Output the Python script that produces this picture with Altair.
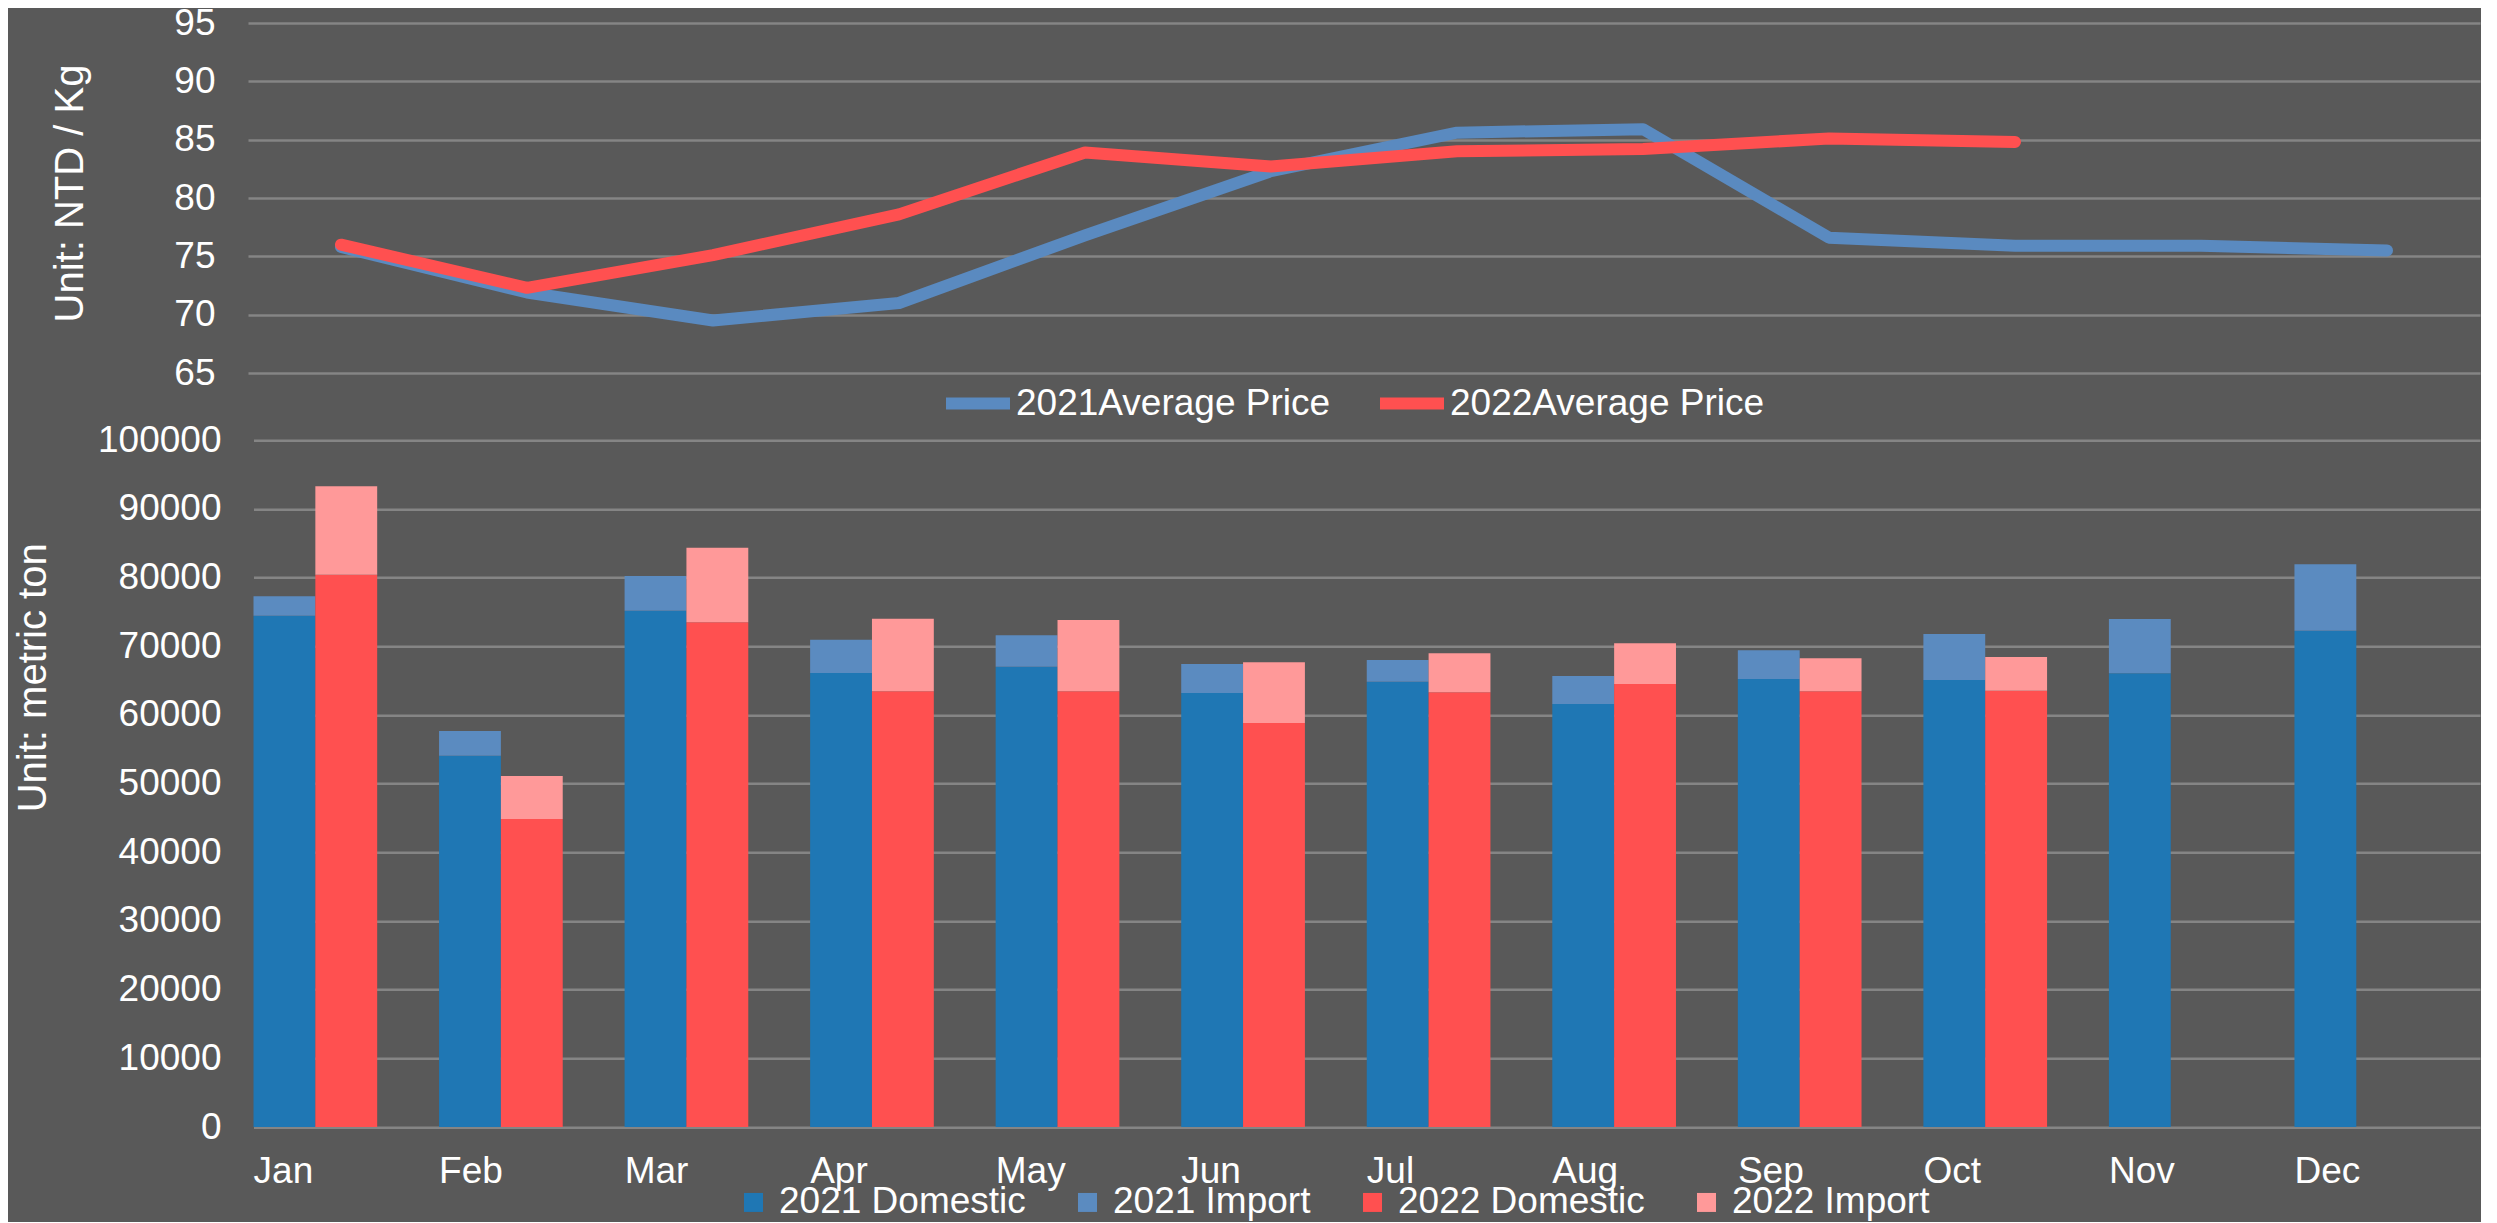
import altair as alt
import pandas as pd

months = ["Jan", "Feb", "Mar", "Apr", "May", "Jun", "Jul", "Aug", "Sep", "Oct", "Nov", "Dec"]

price_2021 = [75.8, 71.9, 69.5, 71.0, 76.8, 82.3, 85.6, 85.9, 76.6, 75.9, 75.9, 75.5]
price_2022 = [76.0, 72.3, 75.1, 78.6, 83.9, 82.7, 84.0, 84.2, 85.1, 84.8]

dom_2021 = [74460, 54080, 75190, 66110, 67040, 63200, 64850, 61600, 65240, 65100, 66070, 72280]
imp_2021 = [2820, 3590, 5050, 4860, 4560, 4220, 3160, 4080, 4180, 6690, 7910, 9660]
dom_2022 = [80430, 44850, 73490, 63440, 63440, 58830, 63300, 64510, 63440, 63540]
imp_2022 = [12870, 6260, 10880, 10590, 10390, 8840, 5680, 5920, 4810, 4900]

line_series = ["2021Average Price", "2022Average Price"]
line_colors = ["#5A8AC0", "#FF5050"]
bar_series = ["2021 Domestic", "2021 Import", "2022 Domestic", "2022 Import"]
bar_colors = ["#1F77B4", "#5B8BC0", "#FF5050", "#FF9999"]

price_ticks = [65, 70, 75, 80, 85, 90, 95]
qty_ticks = [0, 10000, 20000, 30000, 40000, 50000, 60000, 70000, 80000, 90000, 100000]

price_rows = []
for m, v in zip(months, price_2021):
    price_rows.append({"month": m, "series": line_series[0], "price": v})
for m, v in zip(months, price_2022):
    price_rows.append({"month": m, "series": line_series[1], "price": v})
price_df = pd.DataFrame(price_rows)

bar_rows = []
for m, d, i in zip(months, dom_2021, imp_2021):
    bar_rows.append({"month": m, "year": "2021", "series": bar_series[0], "value": d, "k": 0})
    bar_rows.append({"month": m, "year": "2021", "series": bar_series[1], "value": i, "k": 1})
for m, d, i in zip(months, dom_2022, imp_2022):
    bar_rows.append({"month": m, "year": "2022", "series": bar_series[2], "value": d, "k": 0})
    bar_rows.append({"month": m, "year": "2022", "series": bar_series[3], "value": i, "k": 1})
bar_df = pd.DataFrame(bar_rows)

FONT = "Liberation Sans"
W = 2232

top = alt.Chart(price_df).mark_line(strokeWidth=12, strokeCap="round", strokeJoin="round").encode(
    x=alt.X("month:N", sort=months,
            scale=alt.Scale(type="point", domain=months, padding=0.5),
            axis=None),
    y=alt.Y("price:Q",
            scale=alt.Scale(domain=[65, 95], nice=False, zero=False),
            axis=alt.Axis(values=price_ticks, title="Unit: NTD / Kg",
                          titleX=-178, titleY=170, titleBaseline="middle",
                          labelPadding=33, ticks=False, domain=False, grid=True)),
    color=alt.Color("series:N",
                    scale=alt.Scale(domain=line_series, range=line_colors),
                    legend=alt.Legend(orient="none", direction="horizontal", title=None,
                                      legendX=692, legendY=342.6, padding=0,
                                      symbolType="stroke", symbolSize=4096,
                                      symbolStrokeWidth=12, labelOffset=0,
                                      columnPadding=25)),
).properties(width=W, height=350)

bottom = alt.Chart(bar_df).mark_bar().encode(
    x=alt.X("month:N", sort=months,
            scale=alt.Scale(domain=months, paddingInner=0, paddingOuter=0, range=[5.5, W]),
            axis=alt.Axis(title=None, labelAlign="left", labelOffset=-92.7, labelPadding=26,
                          labelAngle=0, ticks=False, domain=False, grid=False)),
    xOffset=alt.XOffset("year:N",
                        scale=alt.Scale(domain=["2021", "2022", "gap"], paddingInner=0, paddingOuter=0)),
    y=alt.Y("value:Q", stack="zero",
            scale=alt.Scale(domain=[0, 100000], nice=False),
            axis=alt.Axis(values=qty_ticks, format="d", title="Unit: metric ton",
                          titleX=-215, titleY=237, titleBaseline="middle",
                          labelPadding=27, ticks=False, domain=False, grid=True)),
    color=alt.Color("series:N",
                    scale=alt.Scale(domain=bar_series, range=bar_colors),
                    legend=alt.Legend(orient="none", direction="horizontal", title=None,
                                      legendX=487, legendY=743.4, padding=0,
                                      symbolType="square", symbolSize=361,
                                      symbolStrokeWidth=0, labelOffset=7,
                                      columnPadding=43)),
    order=alt.Order("k:Q"),
).properties(width=W, height=686.7)

chart = alt.vconcat(top, bottom, spacing=67.3, bounds="flush").resolve_scale(
    x="independent", y="independent", color="independent"
).resolve_legend(color="independent").properties(
    background="#595959",
    padding={"top": -5, "left": 4, "right": 0, "bottom": 0},
).configure_view(stroke="transparent").configure_axis(
    labelFont=FONT, labelFontSize=37, labelColor="#FFFFFF",
    titleFont=FONT, titleFontSize=40, titleColor="#FFFFFF", titleFontWeight="normal",
    gridColor="#858585", gridWidth=2.5,
).configure_legend(
    labelFont=FONT, labelFontSize=37, labelColor="#FFFFFF", labelLimit=0,
)

chart.save("out.html", embed_options={"renderer": "svg", "actions": False})
